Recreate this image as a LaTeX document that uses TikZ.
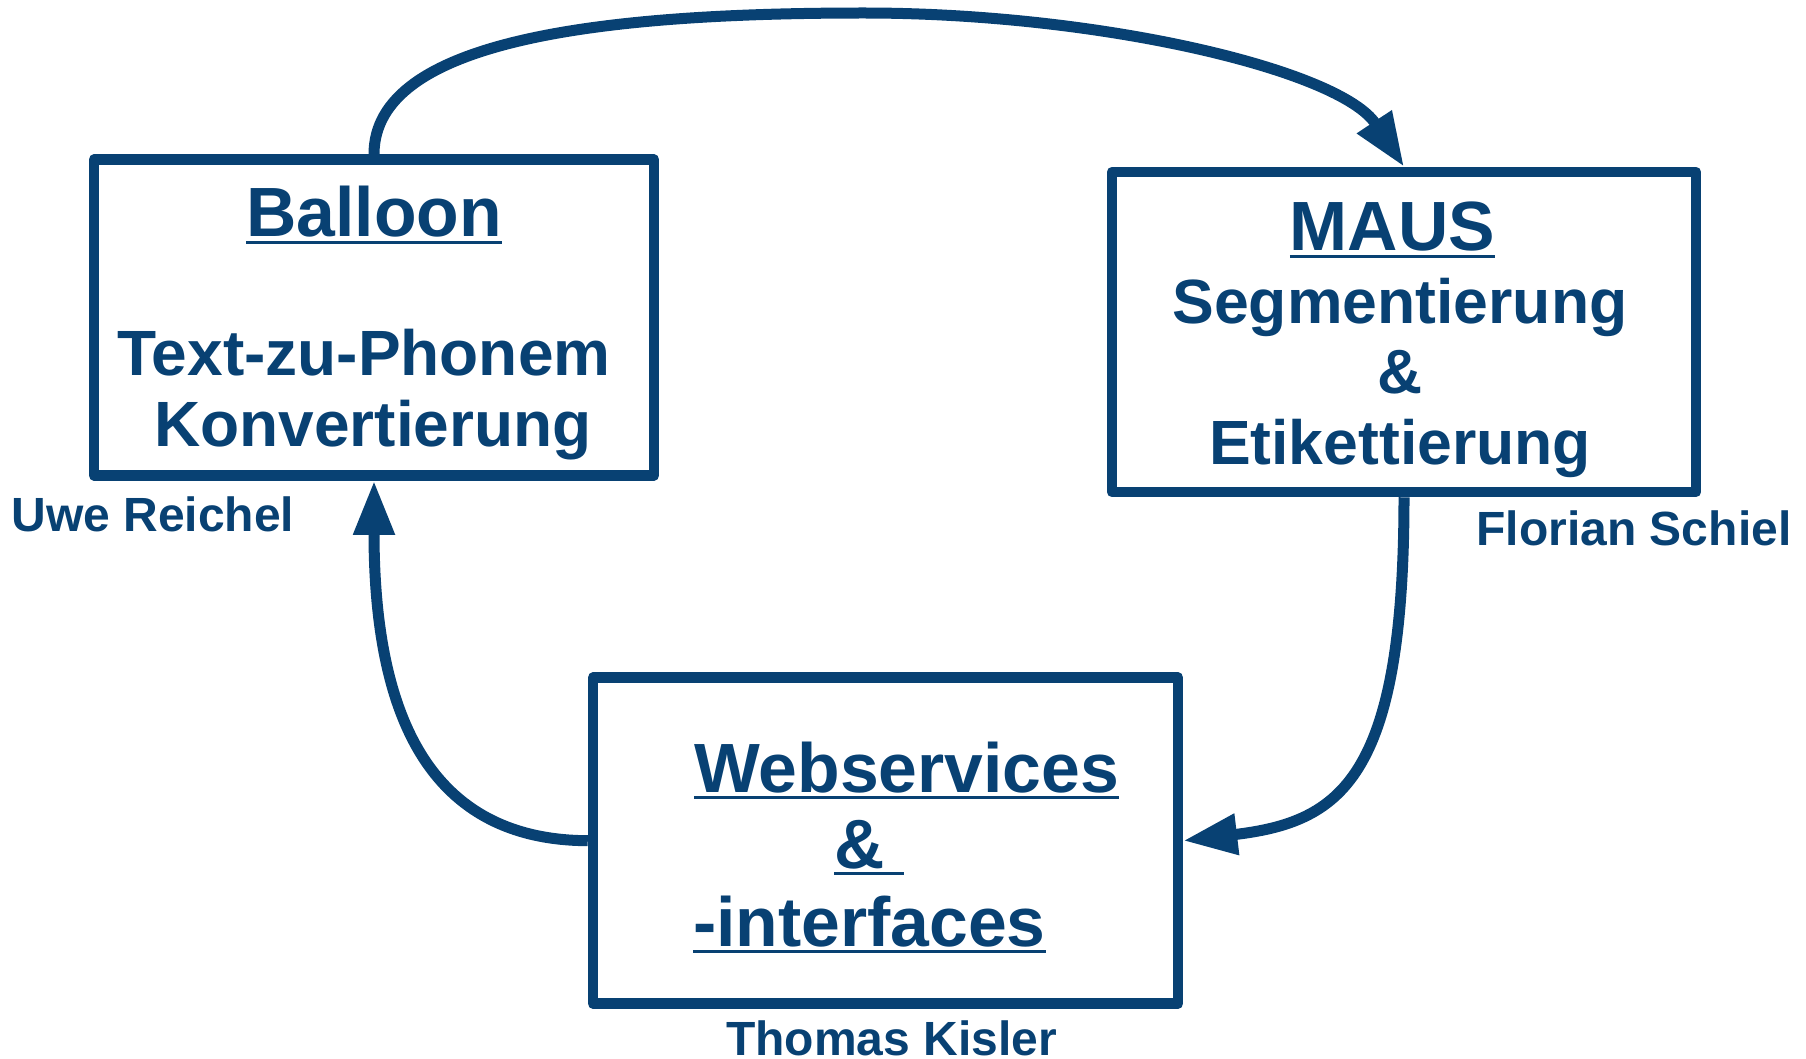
\documentclass[tikz,border=0pt]{standalone}
\usepackage{fontspec}
\setmainfont{Liberation Sans}
\usetikzlibrary{arrows.meta}
\definecolor{mblue}{RGB}{8,65,115}
\newsavebox\ulbox
\newcommand\ulx[1]{\sbox\ulbox{#1}\rlap{\rule[-7pt]{\wd\ulbox}{3pt}}\usebox\ulbox}
\begin{document}
\begin{tikzpicture}[x=1pt,y=-1pt,
  box/.style={draw=mblue,line width=10.5pt,line join=round,rectangle,inner sep=0pt},
  conn/.style={draw=mblue,line width=11pt,-{Triangle[length=54pt,width=39pt]}},
  big/.style={text=mblue,font=\bfseries\fontsize{69.7}{79}\selectfont,inner sep=0pt},
  mid/.style={text=mblue,font=\bfseries\fontsize{62.5}{72}\selectfont,inner sep=0pt},
  midb/.style={text=mblue,font=\bfseries\fontsize{64}{72}\selectfont,inner sep=0pt},
  small/.style={text=mblue,font=\bfseries\fontsize{48}{55}\selectfont,inner sep=0pt}]
\useasboundingbox (0,0) rectangle (1806,1059);
% boxes
\node[box,minimum width=560pt,minimum height=316pt] (bal) at (374,317.5) {};
\node[box,minimum width=584pt,minimum height=320pt] (maus) at (1404,332) {};
\node[box,minimum width=585pt,minimum height=326pt] (web) at (885.5,840.7) {};
% Balloon text
\node[big,anchor=base] (balT) at (374,237) {\ulx{Balloon}};
\node[midb,anchor=base] (balA) at (364,375) {Text-zu-Phonem};
\node[midb,anchor=base] (balB) at (373,446) {Konvertierung};
% MAUS text
\node[big,anchor=base] (mausT) at (1392.5,251) {\ulx{MAUS}};
\node[mid,anchor=base] (mausA) at (1400,323) {Segmentierung};
\node[mid,anchor=base] (mausB) at (1400,393) {\&};
\node[mid,anchor=base] (mausC) at (1400,464) {Etikettierung};
% Web text
\node[big,anchor=base west] (webT) at (694,792) {\ulx{Webservices}};
\node[big,anchor=base west] (webA) at (834,868) {\ulx{\&\ }};
\node[big,anchor=base west] (webB) at (693,946) {\ulx{-interfaces}};
% names
\node[small,anchor=base] (uwe) at (153,531) {Uwe Reichel};
\node[small,anchor=base] (flo) at (1634,545) {Florian Schiel};
\node[small,anchor=base] (tho) at (891.5,1055) {Thomas Kisler};
% connectors
\draw[conn] (bal.north) .. controls (374,40) and (600,13) .. (864,13)
   .. controls (1100,13) and (1340,70) .. (maus.north);
\draw[conn] (maus.south) .. controls (1404,780) and (1340,822) .. (web.east);
\draw[conn] (web.west) .. controls (420,840) and (374,700) .. (bal.south);
\end{tikzpicture}
\end{document}
